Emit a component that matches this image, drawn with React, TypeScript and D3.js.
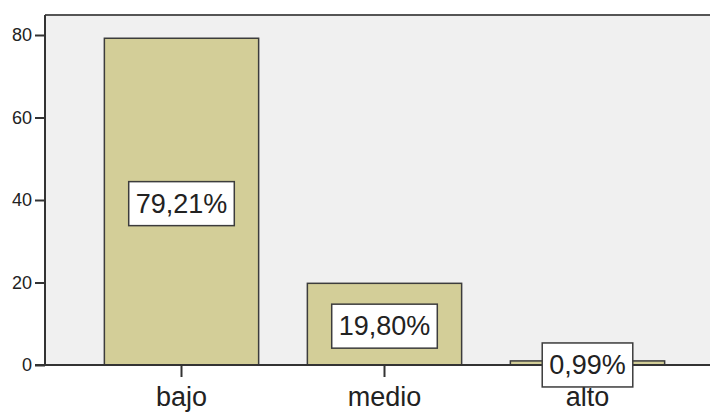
import React, { useEffect, useRef } from 'react';
import { select, scaleBand, scaleLinear, axisLeft, axisBottom } from 'd3';

const categories = ['bajo', 'medio', 'alto'];
const percents = [79.21, 19.8, 0.99];
const yTicks = [0, 20, 40, 60, 80];

const W = 710;
const H = 412;

const fmt = (v: number) => v.toFixed(2).replace('.', ',') + '%';

const App: React.FC = () => {
  const svgRef = useRef<SVGSVGElement | null>(null);

  useEffect(() => {
    if (!svgRef.current) return;
    const svg = select(svgRef.current);
    svg.selectAll('*').remove();

    const left = 45;
    const top = 15;
    const bottom = 365;

    const x = scaleBand<string>()
      .domain(categories)
      .range([80, 689])
      .paddingInner(0.24)
      .paddingOuter(0.12);

    const y = scaleLinear().domain([0, 80]).range([bottom, 35]);

    // plot background
    svg.append('rect')
      .attr('x', left)
      .attr('y', top)
      .attr('width', W - left)
      .attr('height', bottom - top)
      .attr('fill', '#f0f0f0');

    svg.append('line')
      .attr('x1', left).attr('x2', W)
      .attr('y1', top).attr('y2', top)
      .attr('stroke', '#555').attr('stroke-width', 2);

    // bars
    svg.selectAll('rect.bar')
      .data(percents)
      .enter()
      .append('rect')
      .attr('class', 'bar')
      .attr('x', (_d, i) => x(categories[i]) as number)
      .attr('y', d => y(d))
      .attr('width', x.bandwidth())
      .attr('height', d => bottom - y(d))
      .attr('fill', '#d3ce98')
      .attr('stroke', '#3c3c3c')
      .attr('stroke-width', 1.5);

    // axes
    const yAxis = svg.append('g')
      .attr('transform', `translate(${left},0)`)
      .call(axisLeft(y).tickValues(yTicks).tickSize(10).tickSizeOuter(0).tickPadding(3));
    yAxis.select('.domain').attr('stroke', '#333').attr('stroke-width', 2)
      .attr('d', `M0,${top}V${bottom}`);
    yAxis.selectAll('line').attr('stroke', '#333').attr('stroke-width', 2);
    yAxis.selectAll('text')
      .attr('font-family', 'Liberation Sans, Arial, sans-serif')
      .attr('font-size', 18)
      .attr('fill', '#222');

    const xAxis = svg.append('g')
      .attr('transform', `translate(0,${bottom})`)
      .call(axisBottom(x).tickSize(12).tickSizeOuter(0).tickPadding(10));
    xAxis.select('.domain').attr('stroke', '#333').attr('stroke-width', 2)
      .attr('d', `M35,0H${W}`);
    xAxis.selectAll('line').attr('stroke', '#333').attr('stroke-width', 2);
    xAxis.selectAll('text')
      .attr('font-family', 'Liberation Sans, Arial, sans-serif')
      .attr('font-size', 27)
      .attr('fill', '#222');

    // value labels
    percents.forEach((v, i) => {
      const cx = (x(categories[i]) as number) + x.bandwidth() / 2;
      const cy = (y(v) + bottom) / 2 + 2;
      const g = svg.append('g');
      const box = g.append('rect');
      const t = g.append('text')
        .attr('x', cx)
        .attr('y', cy)
        .attr('text-anchor', 'middle')
        .attr('dominant-baseline', 'central')
        .attr('font-family', 'Liberation Sans, Arial, sans-serif')
        .attr('font-size', 27)
        .attr('fill', '#222')
        .text(fmt(v));
      const tw = (t.node() as SVGTextElement).getComputedTextLength();
      const bw = tw + 14;
      const bh = 44;
      box.attr('x', cx - bw / 2)
        .attr('y', cy - bh / 2)
        .attr('width', bw)
        .attr('height', bh)
        .attr('fill', '#fff')
        .attr('stroke', '#3c3c3c')
        .attr('stroke-width', 1.5);
    });
  }, []);

  return (
    <svg
      ref={svgRef}
      width={W}
      height={H}
      style={{ position: 'absolute', left: 0, top: 0, background: '#fff' }}
    />
  );
};

export default App;
